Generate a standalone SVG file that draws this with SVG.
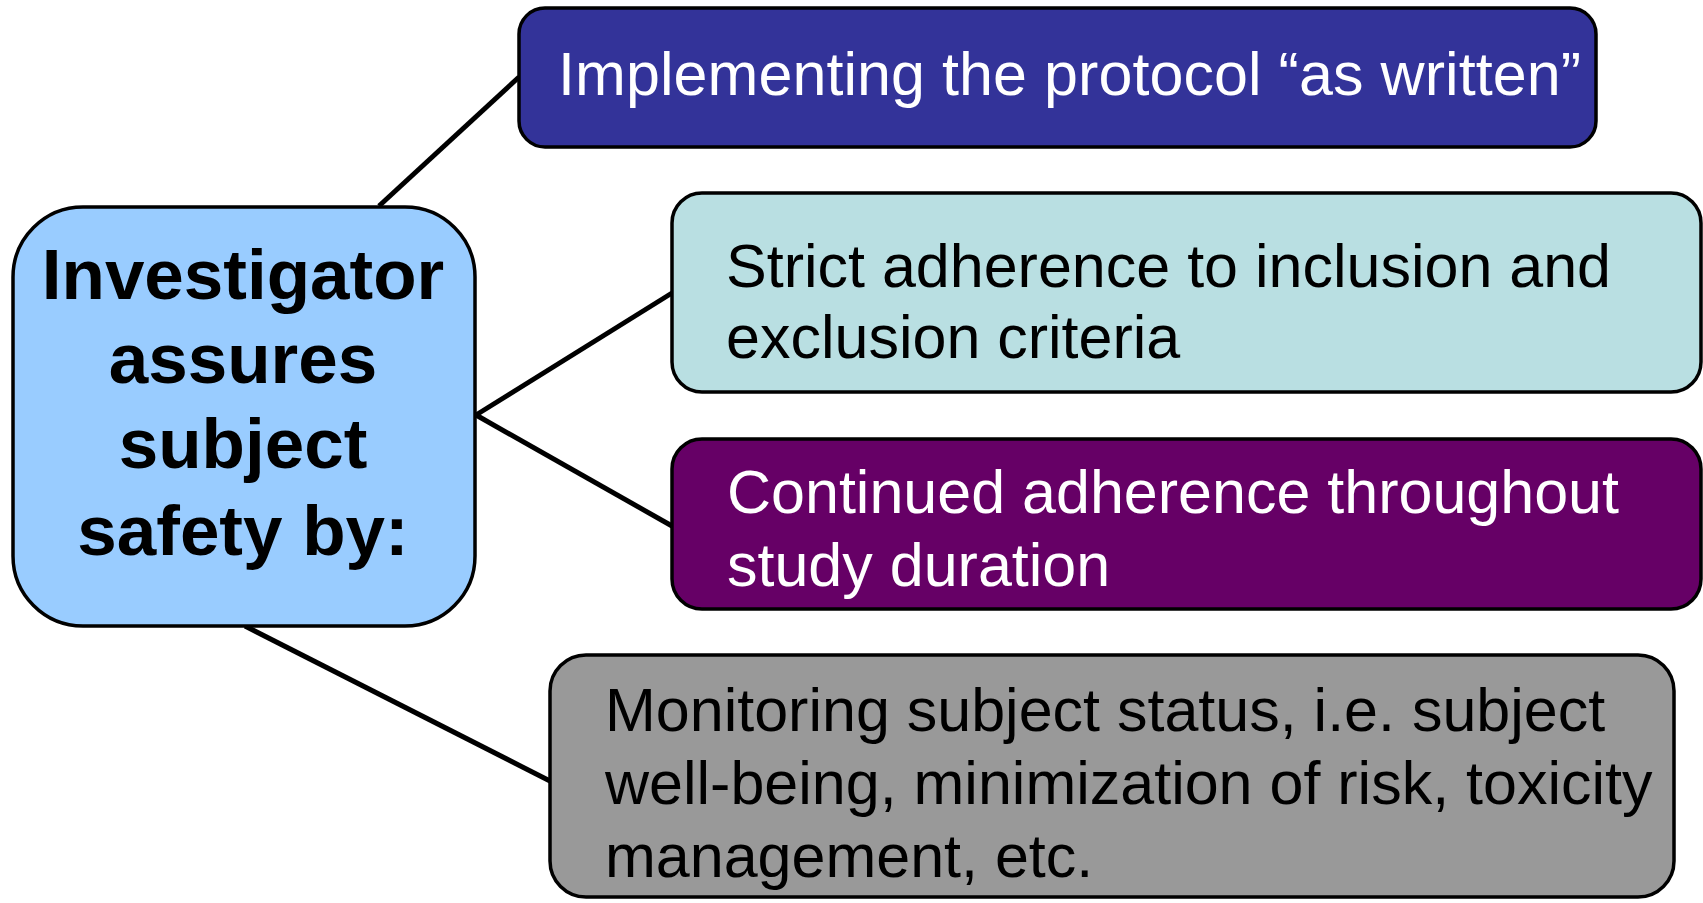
<svg xmlns="http://www.w3.org/2000/svg" width="1703" height="903" viewBox="0 0 1703 903">
<style>
.box{stroke:#000;stroke-width:3.5}
.lbl{font-family:"Liberation Sans",Arial,sans-serif;font-size:61px}
.hub{font-family:"Liberation Sans",Arial,sans-serif;font-size:71px;font-weight:bold;text-anchor:middle;fill:#000}
.conn line{stroke:#000;stroke-width:5;stroke-linecap:butt}
</style>
<rect width="1703" height="903" fill="#fff"/>
<g id="connectors" class="conn">
<line x1="519" y1="77" x2="379" y2="206"/>
<line x1="476" y1="415" x2="672" y2="293"/>
<line x1="476" y1="415" x2="672" y2="526"/>
<line x1="245" y1="626" x2="550" y2="781"/>
</g>
<g id="hub">
<rect class="box" x="13" y="207" width="462" height="419" rx="70" ry="70" fill="#99CCFF"/>
<text class="hub" x="243" y="299">Investigator</text>
<text class="hub" x="243" y="383">assures</text>
<text class="hub" x="243" y="468">subject</text>
<text class="hub" x="243" y="555">safety  by:</text>
</g>
<g id="node-protocol">
<rect class="box" x="519" y="8" width="1077" height="139" rx="26" ry="26" fill="#333399"/>
<text class="lbl" x="558" y="95" fill="#fff" textLength="1023" lengthAdjust="spacing">Implementing the protocol “as written”</text>
</g>
<g id="node-criteria">
<rect class="box" x="672" y="193" width="1029" height="199" rx="30" ry="30" fill="#B9DFE2"/>
<text class="lbl" x="726" y="287" fill="#000">Strict adherence to inclusion and</text>
<text class="lbl" x="726" y="358" fill="#000">exclusion criteria</text>
</g>
<g id="node-continued">
<rect class="box" x="672" y="439" width="1029" height="170" rx="30" ry="30" fill="#660066"/>
<text class="lbl" x="727" y="513" fill="#fff">Continued adherence throughout</text>
<text class="lbl" x="727" y="586" fill="#fff">study duration</text>
</g>
<g id="node-monitoring">
<rect class="box" x="550" y="655" width="1124" height="242" rx="36" ry="36" fill="#999999"/>
<text class="lbl" x="605" y="731" fill="#000">Monitoring subject status, i.e. subject</text>
<text class="lbl" x="605" y="804" fill="#000">well-being, minimization of risk, toxicity</text>
<text class="lbl" x="605" y="877" fill="#000">management, etc.</text>
</g>
</svg>
